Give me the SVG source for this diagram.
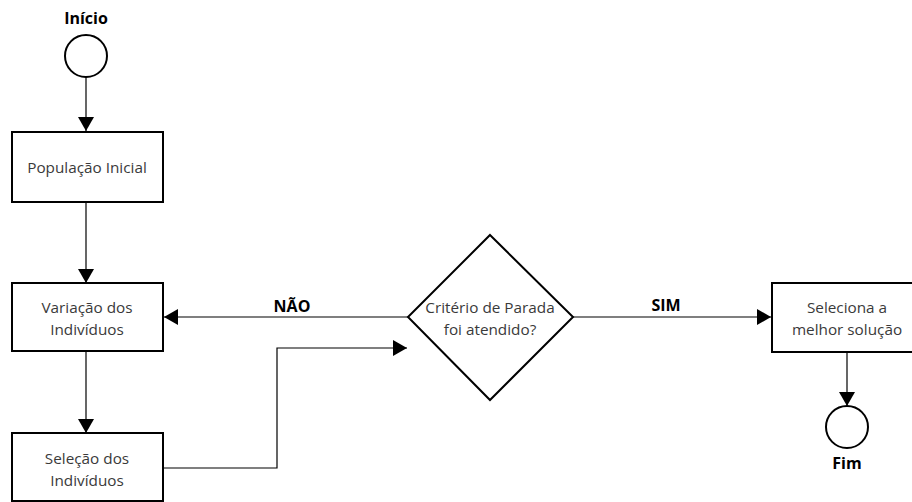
<svg xmlns="http://www.w3.org/2000/svg" width="912" height="502" viewBox="0 0 912 502">
  <defs>
    <marker id="arrow" markerUnits="userSpaceOnUse" markerWidth="16" markerHeight="16" viewBox="0 0 14 16" refX="14" refY="8" orient="auto">
      <path d="M0,0 L14,8 L0,16 Z" fill="#000"/>
    </marker>
    <style>
      .shape { fill: #fff; stroke: #000; stroke-width: 2; }
      .txt { font-family: "Open Sans", "Noto Sans", sans-serif; font-size: 15.3px; fill: #3a3a3a; text-anchor: middle; }
      .lbl { font-family: "Open Sans", "Noto Sans", sans-serif; font-size: 16px; font-weight: bold; fill: #000; text-anchor: middle; }
      .conn { fill: none; stroke: #000; stroke-width: 1.2; marker-end: url(#arrow); }
    </style>
  </defs>
  <rect width="912" height="502" fill="#fff"/>

  <g id="connectors">
    <path class="conn" d="M86,77 V131"/>
    <path class="conn" d="M86,202 V283"/>
    <path class="conn" d="M86,351 V433"/>
    <path class="conn" d="M163,468 H277 V348 H407"/>
    <path class="conn" d="M408,317 H164"/>
    <path class="conn" d="M573,317 H771"/>
    <path class="conn" d="M847,352 V406"/>
    <text class="lbl" x="292" y="312">NÃO</text>
    <text class="lbl" x="666" y="311">SIM</text>
  </g>

  <g id="inicio">
    <text class="lbl" x="86" y="24">Início</text>
    <circle class="shape" cx="86" cy="56" r="21"/>
  </g>

  <g id="populacao-inicial">
    <rect class="shape" x="12" y="132" width="151" height="70"/>
    <text class="txt" x="87" y="173">População Inicial</text>
  </g>

  <g id="variacao">
    <rect class="shape" x="12" y="283" width="151" height="68"/>
    <text class="txt" x="87" y="313">Variação dos</text>
    <text class="txt" x="87" y="335">Indivíduos</text>
  </g>

  <g id="selecao">
    <rect class="shape" x="12" y="433" width="151" height="68"/>
    <text class="txt" x="87" y="464">Seleção dos</text>
    <text class="txt" x="87" y="486">Indivíduos</text>
  </g>

  <g id="criterio">
    <polygon class="shape" points="490,235 573,317 490,400 408,317"/>
    <text class="txt" x="490" y="313">Critério de Parada</text>
    <text class="txt" x="490" y="335">foi atendido?</text>
  </g>

  <g id="seleciona-melhor">
    <rect class="shape" x="772" y="283" width="151" height="69"/>
    <text class="txt" x="847" y="313">Seleciona a</text>
    <text class="txt" x="847" y="335">melhor solução</text>
  </g>

  <g id="fim">
    <circle class="shape" cx="847" cy="427" r="21"/>
    <text class="lbl" x="847" y="469">Fim</text>
  </g>
</svg>
